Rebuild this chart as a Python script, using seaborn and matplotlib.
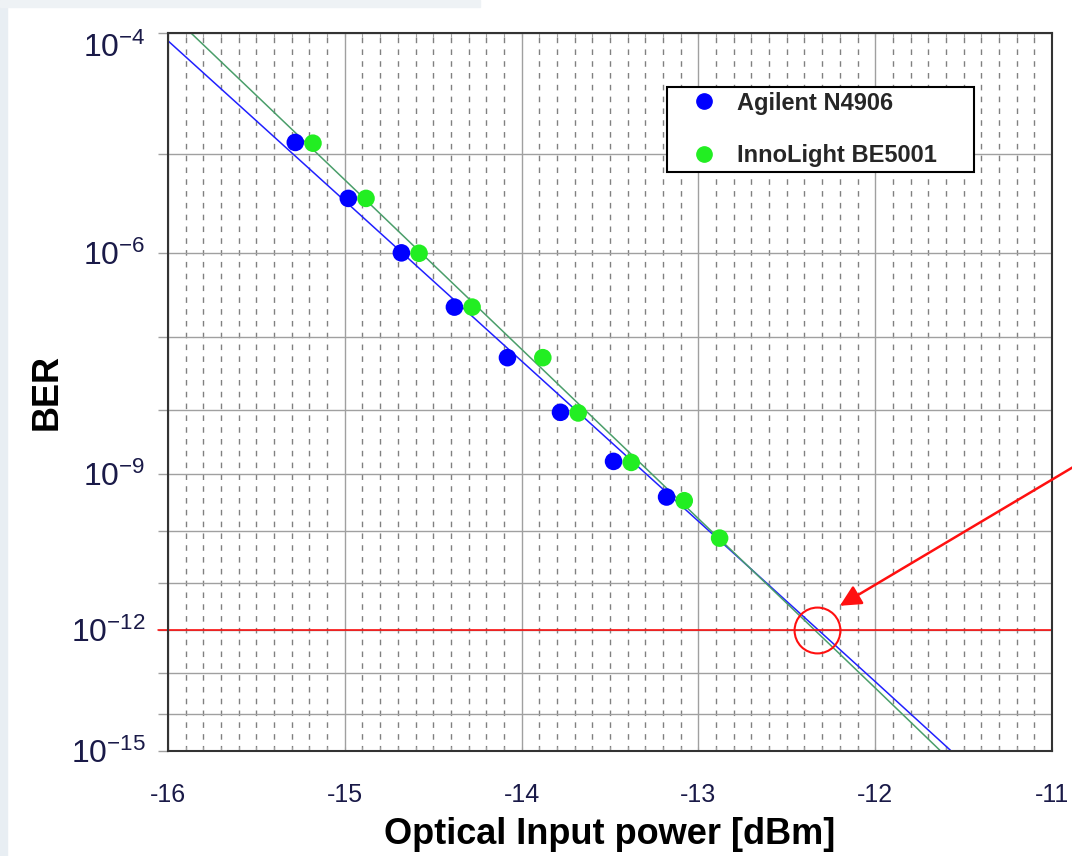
import numpy as np
import pandas as pd
import matplotlib
matplotlib.use("Agg")
import matplotlib.pyplot as plt
import seaborn as sns
from matplotlib.ticker import MultipleLocator
from matplotlib.lines import Line2D
from matplotlib.patches import Rectangle

agilent_power = [-15.28, -14.98, -14.68, -14.38, -14.08, -13.78, -13.48, -13.18]
agilent_ber = [1.28e-5, 3.77e-6, 1.01e-6, 2.37e-7, 5.35e-8, 9.1e-9, 1.58e-9, 4.0e-10]
inno_power = [-15.18, -14.88, -14.58, -14.28, -13.88, -13.68, -13.38, -13.08, -12.88]
inno_ber = [1.26e-5, 3.77e-6, 1.0e-6, 2.37e-7, 5.35e-8, 8.9e-9, 1.52e-9, 3.45e-10, 7.3e-11]

# fitted curves
agilent_fit_power = [-16.0, -15.0, -14.0, -13.0, -12.0, -11.57]
agilent_fit_ber = [8.75e-5, 3.56e-6, 4.82e-8, 1.49e-10, 6.3e-14, 1.0e-15]
inno_fit_power = [-15.87, -15.0, -14.0, -13.0, -12.0, -11.63]
inno_fit_ber = [1.0e-4, 5.73e-6, 6.92e-8, 1.66e-10, 4.4e-14, 1.0e-15]

# threshold and highlighted crossing
ber_threshold = 1e-12
cross_power = -12.33
arrow_tip_power = -12.2
arrow_tip_ber = 3.3e-12

# axis ticks
x_ticks = [-16, -15, -14, -13, -12, -11]
x_tick_labels = ["-16", "-15", "-14", "-13", "-12", "-11"]
y_exponents = list(range(4, 16))
y_labelled = [4, 6, 9, 12, 15]

series_names = ["Agilent N4906", "InnoLight BE5001"]
dot_colors = {"Agilent N4906": "#0000ff", "InnoLight BE5001": "#22ee22"}
fit_colors = {"Agilent N4906": "#2020ff", "InnoLight BE5001": "#4a9e6a"}


def ber_fwd(y):
    y = np.asarray(y, dtype=float)
    with np.errstate(all="ignore"):
        return -np.log10(-np.log10(y))


def ber_inv(t):
    t = np.asarray(t, dtype=float)
    with np.errstate(all="ignore"):
        return 10.0 ** (-(10.0 ** (-t)))


sns.set_style("white")
plt.rcParams["font.family"] = ["Liberation Sans", "DejaVu Sans"]
plt.rcParams["mathtext.fontset"] = "custom"
plt.rcParams["axes.unicode_minus"] = False
narrow = ["Liberation Sans Narrow", "Liberation Sans", "DejaVu Sans"]
text_col = "#1a1a48"
grid_col = "#a0a0a0"

fig = plt.figure(figsize=(10.72, 8.56), dpi=100)
ax = fig.add_axes([168 / 1072, 1 - 751 / 856, 884 / 1072, 718 / 856])

df_pts = pd.DataFrame({
    "power": agilent_power + inno_power,
    "ber": agilent_ber + inno_ber,
    "source": [series_names[0]] * len(agilent_power) + [series_names[1]] * len(inno_power),
})
df_fit = pd.DataFrame({
    "power": agilent_fit_power + inno_fit_power,
    "ber": agilent_fit_ber + inno_fit_ber,
    "source": [series_names[0]] * len(agilent_fit_power) + [series_names[1]] * len(inno_fit_power),
})

sns.lineplot(data=df_fit, x="power", y="ber", hue="source", palette=fit_colors,
             sort=False, estimator=None, lw=1.1, legend=False, ax=ax, zorder=3)
sns.scatterplot(data=df_pts, x="power", y="ber", hue="source", palette=dot_colors,
                s=160, edgecolor="none", legend=False, ax=ax, zorder=4)

ax.set_yscale("function", functions=(ber_fwd, ber_inv))
ax.set_xlim(-16, -11)
ax.set_ylim(1e-15, 1e-4)

# y ticks: every decade, labels only on some
y_vals = [10.0 ** -k for k in y_exponents]
y_labs = [r"$\mathregular{10^{-%d}}$" % k if k in y_labelled else "" for k in y_exponents]
ax.set_yticks(y_vals, labels=y_labs, fontfamily=narrow, fontsize=23, color=text_col)
ax.yaxis.set_minor_locator(plt.NullLocator())
ax.set_xticks(x_ticks, labels=x_tick_labels, fontfamily=narrow, fontsize=18, color=text_col)
ax.xaxis.set_minor_locator(MultipleLocator(0.1))

ax.tick_params(axis="y", which="major", direction="out", length=7.2, width=1.0,
               color=grid_col, pad=9, left=True)
ax.tick_params(axis="x", which="both", direction="in", length=3, width=0.8,
               color=grid_col, pad=23, top=True, bottom=True)

for lab in ax.get_yticklabels():
    if lab.get_text() == y_labs[0]:
        lab.set_verticalalignment("top")

ax.grid(axis="y", which="major", color=grid_col, lw=1.0)
ax.grid(axis="x", which="major", color=grid_col, lw=1.0)
ax.grid(axis="x", which="minor", color="#808080", lw=1.0, ls=(0, (4, 4.5)))
ax.set_axisbelow(True)

for sp in ax.spines.values():
    sp.set_color("#333333")
    sp.set_linewidth(1.5)
    sp.set_zorder(6)

# BER threshold line, circle and arrow
ax.axhline(ber_threshold, xmin=-10 / 884, xmax=1, color="#ff0000", lw=1.1,
           clip_on=False, zorder=3.5)
ax.plot([cross_power], [ber_threshold], marker="o", ms=33, mfc="none",
        mec="#ff1010", mew=1.5, ls="none", zorder=5)
ax.annotate("", xy=(arrow_tip_power, arrow_tip_ber), xycoords="data",
            xytext=(1085, 856 - 460), textcoords="figure pixels",
            arrowprops=dict(arrowstyle="-|>", color="#ff1010", lw=1.8,
                            mutation_scale=32, shrinkA=0, shrinkB=0),
            annotation_clip=False, zorder=7)

ax.set_xlabel("Optical Input power [dBm]", fontsize=26, fontweight="bold", color="black")
ax.set_ylabel("BER", fontsize=26, fontweight="bold", color="black")
ax.xaxis.set_label_coords(0.5, -0.092)
ax.yaxis.set_label_coords(-0.117, 0.5)

handles = [Line2D([], [], marker="o", ls="none", color=dot_colors[n], markersize=11)
           for n in series_names]
leg = ax.legend(handles, series_names, loc="upper left",
                bbox_to_anchor=(0.5645, 0.800, 0.3475, 0.125), mode="expand",
                borderaxespad=0, borderpad=0.2, handlelength=2.7, handletextpad=0.05,
                labelspacing=1.25, prop={"weight": "bold", "size": 17},
                frameon=True, fancybox=False, framealpha=1, edgecolor="black")
leg.get_frame().set_linewidth(1.5)
leg.set_zorder(8)

# light frame of the screenshot
fig.add_artist(Rectangle((0, 0), 7 / 1072, 1, transform=fig.transFigure,
                         color="#e8eef3", zorder=0))
fig.add_artist(Rectangle((0, 1 - 7 / 856), 480 / 1072, 7 / 856,
                         transform=fig.transFigure, color="#eef2f5", zorder=0))

fig.savefig("out.png", dpi=100)
